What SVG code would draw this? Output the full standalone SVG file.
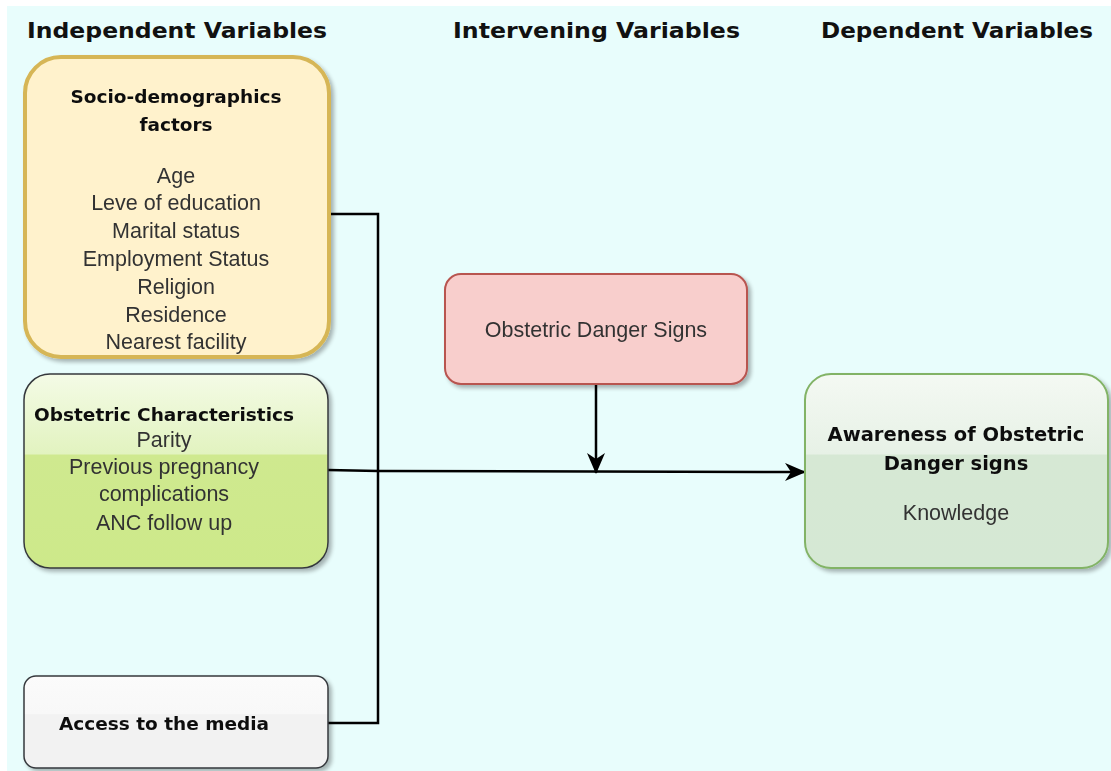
<svg xmlns="http://www.w3.org/2000/svg" width="1111" height="771" viewBox="0 0 1111 771">
<defs>
<style>
.hdr{font-family:"DejaVu Sans",Verdana,sans-serif;font-weight:bold;font-size:22px;fill:#111}
.bt{font-family:"DejaVu Sans",Verdana,sans-serif;font-weight:bold;font-size:18.5px;fill:#111;text-anchor:middle}
.rt{font-family:"Liberation Sans",Arial,sans-serif;font-size:21.5px;fill:#333;text-anchor:middle}
.conn{fill:none;stroke:#000;stroke-width:2.5}
</style>
<filter id="sh" x="-10%" y="-10%" width="130%" height="130%">
<feGaussianBlur in="SourceAlpha" stdDeviation="2"/>
<feOffset dx="3" dy="3" result="b"/>
<feComponentTransfer><feFuncA type="linear" slope="0.3"/></feComponentTransfer>
<feMerge><feMergeNode/><feMergeNode in="SourceGraphic"/></feMerge>
</filter>
<linearGradient id="gGreen" x1="0" y1="0" x2="0" y2="1">
<stop offset="0" stop-color="#f4fbe6"/>
<stop offset="0.41" stop-color="#e2f3c0"/>
<stop offset="0.42" stop-color="#cfe98f"/>
<stop offset="1" stop-color="#cde98a"/>
</linearGradient>
<linearGradient id="gGray" x1="0" y1="0" x2="0" y2="1">
<stop offset="0" stop-color="#fbfbfb"/>
<stop offset="0.41" stop-color="#f8f8f8"/>
<stop offset="0.42" stop-color="#f2f2f2"/>
<stop offset="1" stop-color="#f2f2f2"/>
</linearGradient>
<linearGradient id="gDep" x1="0" y1="0" x2="0" y2="1">
<stop offset="0" stop-color="#f4f9f3"/>
<stop offset="0.41" stop-color="#e7f1e6"/>
<stop offset="0.42" stop-color="#d6e8d4"/>
<stop offset="1" stop-color="#d5e8d4"/>
</linearGradient>
<marker id="arr" viewBox="0 0 21 18" refX="20" refY="9" markerWidth="21" markerHeight="18" markerUnits="userSpaceOnUse" orient="auto">
<path d="M0,0 L21,9 L0,18 L6,9 Z" fill="#000"/>
</marker>
</defs>
<rect x="7" y="6" width="1104" height="765" fill="#e8fdfc"/>
<g id="headers">
<text class="hdr" x="27" y="38" textLength="300" lengthAdjust="spacingAndGlyphs">Independent Variables</text>
<text class="hdr" x="453" y="38" textLength="287" lengthAdjust="spacingAndGlyphs">Intervening Variables</text>
<text class="hdr" x="821" y="38" textLength="272" lengthAdjust="spacingAndGlyphs">Dependent Variables</text>
</g>
<g id="connectors">
<polyline class="conn" points="330,214 378,214 378,723 328,723"/>
<polyline class="conn" points="328,470 378,471 805,472" marker-end="url(#arr)"/>
<line class="conn" x1="596" y1="384" x2="596" y2="473" marker-end="url(#arr)"/>
</g>
<g id="socio" filter="url(#sh)">
<rect x="25" y="57" width="304" height="300" rx="36" fill="#fff2cc" stroke="#d6b656" stroke-width="4"/>
<text class="bt" x="176" y="103">Socio-demographics</text>
<text class="bt" x="176" y="131">factors</text>
<text class="rt" x="176" y="183">Age</text>
<text class="rt" x="176" y="210">Leve of education</text>
<text class="rt" x="176" y="238">Marital status</text>
<text class="rt" x="176" y="266">Employment Status</text>
<text class="rt" x="176" y="294">Religion</text>
<text class="rt" x="176" y="322">Residence</text>
<text class="rt" x="176" y="349">Nearest facility</text>
</g>
<g id="obstetric" filter="url(#sh)">
<rect x="24" y="374" width="304" height="194" rx="26" fill="url(#gGreen)" stroke="#36393d" stroke-width="1.5"/>
<text class="bt" x="164" y="421">Obstetric Characteristics</text>
<text class="rt" x="164" y="447">Parity</text>
<text class="rt" x="164" y="474">Previous pregnancy</text>
<text class="rt" x="164" y="501">complications</text>
<text class="rt" x="164" y="530">ANC follow up</text>
</g>
<g id="media" filter="url(#sh)">
<rect x="24" y="676" width="304" height="92" rx="12" fill="url(#gGray)" stroke="#36393d" stroke-width="1.5"/>
<text class="bt" x="164" y="730">Access to the media</text>
</g>
<g id="danger" filter="url(#sh)">
<rect x="445" y="274" width="302" height="110" rx="16" fill="#f8cecc" stroke="#b85450" stroke-width="2"/>
<text class="rt" x="596" y="337">Obstetric Danger Signs</text>
</g>
<g id="awareness" filter="url(#sh)">
<rect x="805" y="374" width="303" height="194" rx="26" fill="url(#gDep)" stroke="#82b366" stroke-width="2"/>
<text class="bt" x="956" y="441" style="font-size:19.5px">Awareness of Obstetric</text>
<text class="bt" x="956" y="470" style="font-size:19.5px">Danger signs</text>
<text class="rt" x="956" y="520">Knowledge</text>
</g>
</svg>
